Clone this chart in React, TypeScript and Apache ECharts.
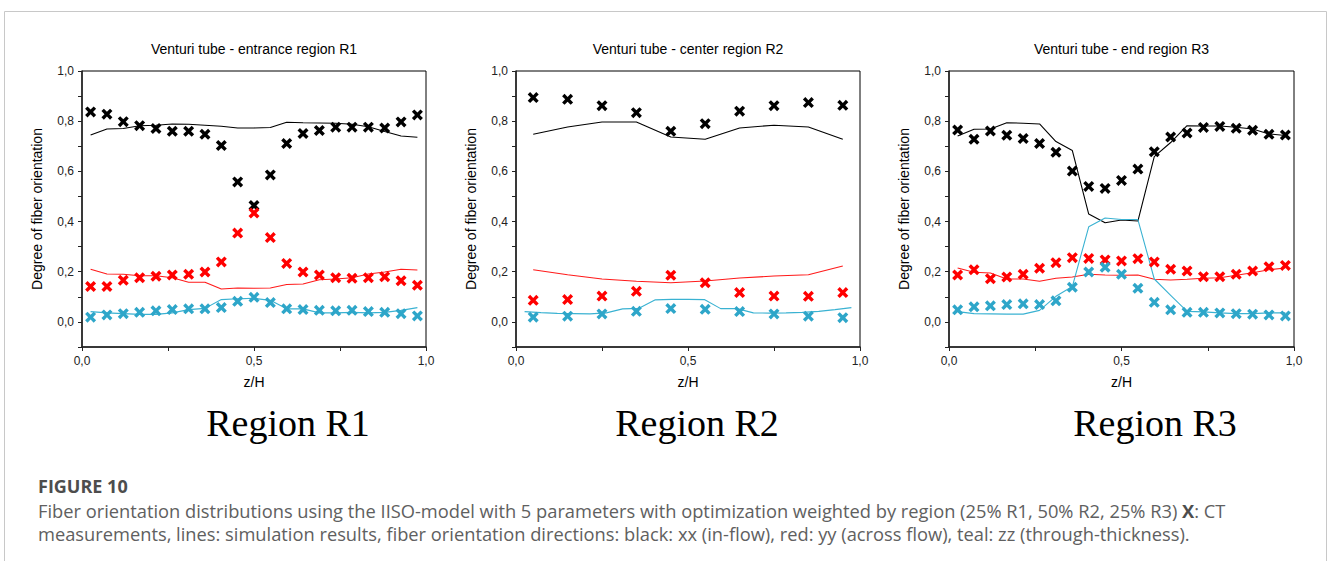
import React, { useEffect, useRef } from "react";
import * as echarts from "echarts";

// ---------- data ----------
const xs21 = [0.025, 0.0725, 0.12, 0.1675, 0.215, 0.2625, 0.31, 0.3575, 0.405, 0.4525, 0.5, 0.5475, 0.595, 0.6425, 0.69, 0.7375, 0.785, 0.8325, 0.88, 0.9275, 0.975];
const xs10 = [0.05, 0.15, 0.25, 0.35, 0.45, 0.55, 0.65, 0.75, 0.85, 0.95];

// Region R1 (21 positions)
const r1BlackMeas = [0.837, 0.828, 0.798, 0.782, 0.771, 0.76, 0.76, 0.748, 0.703, 0.558, 0.464, 0.586, 0.711, 0.751, 0.763, 0.776, 0.776, 0.776, 0.773, 0.797, 0.825];
const r1BlackSim = [0.745, 0.769, 0.771, 0.782, 0.784, 0.789, 0.788, 0.784, 0.78, 0.773, 0.773, 0.775, 0.796, 0.794, 0.793, 0.792, 0.788, 0.778, 0.759, 0.741, 0.736];
const r1RedMeas = [0.141, 0.141, 0.166, 0.176, 0.182, 0.187, 0.19, 0.199, 0.239, 0.354, 0.434, 0.336, 0.233, 0.199, 0.187, 0.176, 0.174, 0.176, 0.18, 0.164, 0.146];
const r1RedSim = [0.21, 0.191, 0.19, 0.184, 0.184, 0.176, 0.158, 0.158, 0.131, 0.135, 0.134, 0.135, 0.149, 0.151, 0.168, 0.171, 0.176, 0.191, 0.199, 0.21, 0.207];
const r1TealMeas = [0.019, 0.028, 0.033, 0.038, 0.044, 0.049, 0.052, 0.052, 0.057, 0.082, 0.098, 0.077, 0.052, 0.049, 0.046, 0.044, 0.046, 0.041, 0.038, 0.033, 0.024];
const r1TealSim = [0.041, 0.036, 0.033, 0.03, 0.03, 0.036, 0.049, 0.054, 0.089, 0.092, 0.094, 0.086, 0.052, 0.052, 0.036, 0.036, 0.038, 0.036, 0.038, 0.046, 0.057];

// Region R2 (10 positions; teal simulation on 21 positions)
const r2BlackMeas = [0.894, 0.887, 0.862, 0.834, 0.76, 0.79, 0.84, 0.862, 0.874, 0.863];
const r2BlackSim = [0.748, 0.777, 0.797, 0.797, 0.737, 0.728, 0.773, 0.784, 0.777, 0.728];
const r2RedMeas = [0.086, 0.089, 0.103, 0.122, 0.186, 0.156, 0.117, 0.103, 0.102, 0.117];
const r2RedSim = [0.208, 0.188, 0.171, 0.162, 0.156, 0.163, 0.175, 0.183, 0.188, 0.223];
const r2TealMeas = [0.019, 0.023, 0.032, 0.042, 0.053, 0.05, 0.041, 0.032, 0.023, 0.017];
const r2TealSim = [0.041, 0.037, 0.034, 0.033, 0.032, 0.036, 0.052, 0.054, 0.088, 0.09, 0.09, 0.089, 0.053, 0.053, 0.036, 0.035, 0.036, 0.038, 0.042, 0.049, 0.057];

// Region R3 (21 positions)
const r3BlackMeas = [0.765, 0.728, 0.761, 0.744, 0.731, 0.711, 0.676, 0.601, 0.54, 0.532, 0.564, 0.609, 0.678, 0.737, 0.753, 0.775, 0.779, 0.772, 0.764, 0.748, 0.745];
const r3BlackSim = [0.741, 0.768, 0.769, 0.794, 0.792, 0.789, 0.719, 0.683, 0.43, 0.395, 0.406, 0.402, 0.659, 0.715, 0.782, 0.781, 0.781, 0.776, 0.769, 0.749, 0.743];
const r3RedMeas = [0.187, 0.208, 0.172, 0.179, 0.19, 0.214, 0.236, 0.256, 0.253, 0.247, 0.243, 0.252, 0.239, 0.21, 0.203, 0.18, 0.18, 0.19, 0.203, 0.22, 0.225];
const r3RedSim = [0.215, 0.198, 0.195, 0.171, 0.171, 0.162, 0.174, 0.179, 0.19, 0.187, 0.186, 0.187, 0.17, 0.167, 0.17, 0.174, 0.176, 0.186, 0.196, 0.208, 0.215];
const r3TealMeas = [0.048, 0.06, 0.064, 0.069, 0.072, 0.069, 0.084, 0.138, 0.199, 0.218, 0.19, 0.134, 0.078, 0.048, 0.038, 0.038, 0.036, 0.033, 0.031, 0.028, 0.024];
const r3TealSim = [0.041, 0.033, 0.032, 0.031, 0.031, 0.046, 0.102, 0.141, 0.379, 0.414, 0.408, 0.408, 0.171, 0.106, 0.042, 0.04, 0.036, 0.033, 0.033, 0.036, 0.036];

const panelTitles = ["Venturi tube - entrance region R1", "Venturi tube - center region R2", "Venturi tube - end region R3"];
const regionLabels = ["Region R1", "Region R2", "Region R3"];
const yAxisName = "Degree of fiber orientation";
const xAxisName = "z/H";
const figureLabel = "FIGURE 10";
const captionLine1 = "Fiber orientation distributions using the IISO-model with 5 parameters with optimization weighted by region (25% R1, 50% R2, 25% R3) ";
const captionLine1End = ": CT";
const captionLine2 = "measurements, lines: simulation results, fiber orientation directions: black: xx (in-flow), red: yy (across flow), teal: zz (through-thickness).";

// ---------- styling ----------
const BLACK = "#000000";
const RED = "#ff0000";
const TEAL = "#2ea6c9";
const TEAL_LINE = "#3ab2d2";
const RED_LINE = "#ff1a1a";
const CROSS = "path://M0,2.2L2.2,0L5,2.8L7.8,0L10,2.2L7.2,5L10,7.8L7.8,10L5,7.2L2.2,10L0,7.8L2.8,5Z";
const AX_FONT = "'Liberation Sans', Arial, sans-serif";
const CAP_FONT = "'Open Sans', sans-serif";
const CAP_SIZE = 18.3;

const grids = [
  { left: 82, top: 71, width: 344, height: 276 },
  { left: 516, top: 71, width: 344, height: 276 },
  { left: 949, top: 71, width: 345, height: 276 },
];
const regionLabelX = [288, 697, 1155];

const zip = (xs: number[], ys: number[]) => xs.map((x, i) => [x, ys[i]]);

function buildOption() {
  const panels = [
    { bm: zip(xs21, r1BlackMeas), bs: zip(xs21, r1BlackSim), rm: zip(xs21, r1RedMeas), rs: zip(xs21, r1RedSim), tm: zip(xs21, r1TealMeas), ts: zip(xs21, r1TealSim) },
    { bm: zip(xs10, r2BlackMeas), bs: zip(xs10, r2BlackSim), rm: zip(xs10, r2RedMeas), rs: zip(xs10, r2RedSim), tm: zip(xs10, r2TealMeas), ts: zip(xs21, r2TealSim) },
    { bm: zip(xs21, r3BlackMeas), bs: zip(xs21, r3BlackSim), rm: zip(xs21, r3RedMeas), rs: zip(xs21, r3RedSim), tm: zip(xs21, r3TealMeas), ts: zip(xs21, r3TealSim) },
  ];

  const xAxis = grids.map((_, i) => ({
    type: "value",
    gridIndex: i,
    min: 0,
    max: 1,
    interval: 0.25,
    name: xAxisName,
    nameLocation: "middle",
    nameGap: 28,
    nameTextStyle: { fontFamily: AX_FONT, fontSize: 14, color: "#000" },
    axisLine: { show: true, onZero: false, lineStyle: { color: "#222", width: 1.5 } },
    axisTick: { show: true, inside: false, length: 4, lineStyle: { color: "#222", width: 1 } },
    axisLabel: {
      margin: 8,
      fontFamily: AX_FONT,
      fontSize: 12,
      color: "#222",
      formatter: (v: number) => {
        const k = Math.round(v * 4);
        if (k % 2 !== 0) return "";
        return (k / 4).toFixed(1).replace(".", ",");
      },
    },
    splitLine: { show: false },
  }));

  const yAxis = grids.map((_, i) => ({
    type: "value",
    gridIndex: i,
    min: -0.1,
    max: 1.0,
    interval: 0.1,
    name: yAxisName,
    nameLocation: "middle",
    nameGap: 38,
    nameRotate: 90,
    nameTextStyle: { fontFamily: AX_FONT, fontSize: 14, color: "#000" },
    axisLine: { show: true, onZero: false, lineStyle: { color: "#222", width: 1.5 } },
    axisTick: { show: true, inside: false, length: 4, lineStyle: { color: "#222", width: 1 } },
    axisLabel: {
      margin: 8,
      fontFamily: AX_FONT,
      fontSize: 12,
      color: "#222",
      formatter: (v: number) => {
        const k = Math.round(v * 10);
        if (k < 0 || k % 2 !== 0) return "";
        return (k / 10).toFixed(1).replace(".", ",");
      },
    },
    splitLine: { show: false },
  }));

  const series: any[] = [];
  panels.forEach((p, i) => {
    const line = (data: number[][], color: string) => ({
      type: "line",
      xAxisIndex: i,
      yAxisIndex: i,
      data,
      showSymbol: false,
      symbol: "none",
      lineStyle: { color, width: 1.1 },
      z: 2,
    });
    const scat = (data: number[][], color: string) => ({
      type: "scatter",
      xAxisIndex: i,
      yAxisIndex: i,
      data,
      symbol: CROSS,
      symbolSize: 11,
      itemStyle: { color, opacity: 1 },
      z: 3,
    });
    series.push(line(p.bs, BLACK), line(p.rs, RED_LINE), line(p.ts, TEAL_LINE));
    series.push(scat(p.bm, BLACK), scat(p.rm, RED), scat(p.tm, TEAL));
  });

  const graphic: any[] = [
    {
      type: "rect",
      shape: { x: 4.5, y: 11.5, width: 1322, height: 620 },
      style: { fill: "none", stroke: "#c8c8c8", lineWidth: 1 },
      silent: true,
    },
  ];
  grids.forEach((g, i) => {
    graphic.push({
      type: "text",
      x: g.left + g.width / 2,
      y: 49,
      style: {
        text: panelTitles[i],
        font: `14px ${AX_FONT}`,
        fill: "#000",
        textAlign: "center",
        textVerticalAlign: "middle",
        align: "center",
        verticalAlign: "middle",
      },
    });
    graphic.push({
      type: "text",
      x: regionLabelX[i],
      y: 423,
      style: {
        text: regionLabels[i],
        font: `38px "Liberation Serif", "Times New Roman", serif`,
        fill: "#000",
        textAlign: "center",
        textVerticalAlign: "middle",
        align: "center",
        verticalAlign: "middle",
      },
    });
  });
  graphic.push({
    type: "text",
    x: 38,
    y: 486,
    style: {
      text: figureLabel,
      font: `bold 18px ${CAP_FONT}`,
      fill: "#4d4d4d",
      lineHeight: 20,
      textAlign: "left",
      textVerticalAlign: "middle",
      align: "left",
      verticalAlign: "middle",
    },
  });
  graphic.push({
    type: "text",
    x: 38,
    y: 510,
    style: {
      text: captionLine1 + "{b|X}" + captionLine1End,
      font: `${CAP_SIZE}px ${CAP_FONT}`,
      fontSize: CAP_SIZE,
      fontFamily: CAP_FONT,
      lineHeight: 21,
      fill: "#606060",
      textAlign: "left",
      textVerticalAlign: "middle",
      align: "left",
      verticalAlign: "middle",
      rich: {
        b: { fontSize: CAP_SIZE, fontFamily: CAP_FONT, fontWeight: "bold", lineHeight: 21, fill: "#4d4d4d", color: "#4d4d4d" },
      },
    },
  });
  graphic.push({
    type: "text",
    x: 38,
    y: 533,
    style: {
      text: captionLine2,
      font: `${CAP_SIZE}px ${CAP_FONT}`,
      lineHeight: 21,
      fill: "#606060",
      textAlign: "left",
      textVerticalAlign: "middle",
      align: "left",
      verticalAlign: "middle",
    },
  });

  return {
    animation: false,
    backgroundColor: "#ffffff",
    grid: grids.map((g) => ({ ...g, show: true, borderColor: "#000", borderWidth: 1, backgroundColor: "transparent", containLabel: false })),
    xAxis,
    yAxis,
    series,
    graphic,
  };
}

export default function App() {
  const ref = useRef<HTMLDivElement>(null);
  useEffect(() => {
    if (!ref.current) return;
    const chart = echarts.init(ref.current, null, { renderer: "svg" });
    chart.setOption(buildOption() as any);
    return () => chart.dispose();
  }, []);
  return (
    <div
      ref={ref}
      style={{ position: "absolute", left: 0, top: 0, width: 1328, height: 561, background: "#fff" }}
    />
  );
}
